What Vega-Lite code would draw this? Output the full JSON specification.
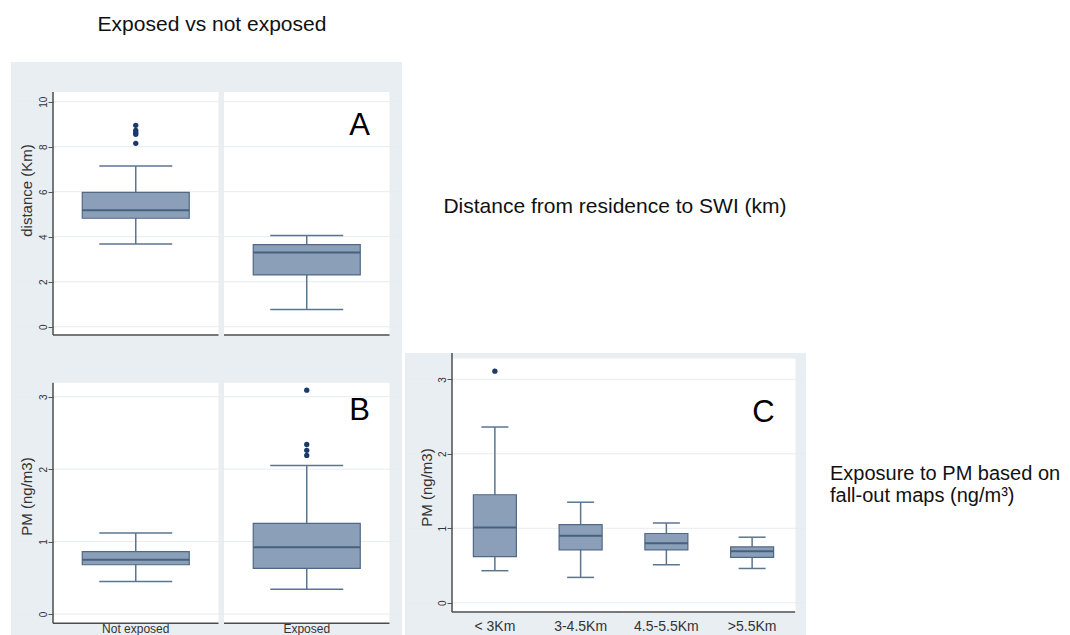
{
  "$schema": "https://vega.github.io/schema/vega-lite/v6.json",
  "padding": {"left": 10, "top": 0, "right": 0, "bottom": 0},
  "background": "white",
  "config": {"font": "Liberation Sans", "view": {"stroke": null}},
  "spacing": 12,
  "vconcat": [
    {
      "width": 402, "height": 50,
      "data": {"values": [{"t": "Exposed vs not exposed"}]},
      "mark": {"type": "text", "fontSize": 21, "align": "center", "baseline": "middle", "color": "#111"},
      "encoding": {"text": {"field": "t", "type": "nominal"}}
    },
    {
      "spacing": 1,
      "hconcat": [
        {
          "spacing": 0,
          "vconcat": [
            {
              "width": 391, "height": 283,
              "view": {"fill": "#e9eef2", "stroke": null},
              "data": {"values": [
                {"group": "Not exposed", "lower": 3.68, "q1": 4.82, "median": 5.18, "q3": 5.97, "upper": 7.14},
                {"group": "Exposed", "lower": 0.77, "q1": 2.3, "median": 3.3, "q3": 3.65, "upper": 4.05}
              ]},
              "layer": [
                {
                  "mark": {"type": "bar", "color": "white"},
                  "encoding": {
                    "x": {"field": "group", "type": "nominal", "sort": null, "axis": null, "scale": {"type": "band", "domain": ["Not exposed", "Exposed"], "paddingInner": 0.0322, "paddingOuter": 0.1594, "align": 0.7706}},
                    "y": {"datum": 10.43, "type": "quantitative", "scale": {"domain": [-0.813, 11.764], "nice": false, "zero": false},
                      "axis": {"orient": "left", "offset": -42, "values": [0, 2, 4, 6, 8, 10], "format": "d", "domain": false, "grid": false, "ticks": true, "tickSize": 5, "tickColor": "#555", "tickWidth": 1, "labelAngle": 270, "labelFontSize": 10, "labelColor": "#333", "labelPadding": 0, "labelFlush": false, "title": "distance (Km)", "titleFontSize": 15, "titleFontWeight": "normal", "titleColor": "#333", "titleAngle": 270, "titleX": -27, "titleY": 128, "titleAlign": "center", "titleBaseline": "middle", "zindex": 1}},
                    "y2": {"datum": -0.369}
                  }
                },
                {
                  "data": {"values": [{"g": 0}, {"g": 2}, {"g": 4}, {"g": 6}, {"g": 8}, {"g": 10}]},
                  "mark": {"type": "rule", "color": "#e7ecf0", "strokeWidth": 1},
                  "encoding": {"y": {"field": "g", "type": "quantitative", "scale": {"domain": [-0.813, 11.764], "nice": false, "zero": false}}}
                },
                {
                  "transform": [{"filter": "datum.group === 'Not exposed'"}],
                  "mark": {"type": "rule", "color": "#4d4d4d", "strokeWidth": 1.5},
                  "encoding": {
                    "x": {"field": "group", "type": "nominal", "sort": null, "axis": null, "bandPosition": 0, "scale": {"type": "band", "domain": ["Not exposed", "Exposed"], "paddingInner": 0.0322, "paddingOuter": 0.1594, "align": 0.7706}},
                    "y": {"datum": 10.43, "type": "quantitative", "scale": {"domain": [-0.813, 11.764], "nice": false, "zero": false}},
                    "y2": {"datum": -0.369}
                  }
                },
                {
                  "mark": {"type": "tick", "color": "#4d4d4d", "size": 165.5, "thickness": 1.5, "opacity": 1},
                  "encoding": {
                    "x": {"field": "group", "type": "nominal", "sort": null, "axis": null, "scale": {"type": "band", "domain": ["Not exposed", "Exposed"], "paddingInner": 0.0322, "paddingOuter": 0.1594, "align": 0.7706}},
                    "y": {"datum": -0.369, "type": "quantitative", "scale": {"domain": [-0.813, 11.764], "nice": false, "zero": false}}
                  }
                },
                {
                  "mark": {"type": "rule", "color": "#5b7591", "strokeWidth": 1.5},
                  "encoding": {
                    "x": {"field": "group", "type": "nominal", "sort": null, "axis": null, "scale": {"type": "band", "domain": ["Not exposed", "Exposed"], "paddingInner": 0.0322, "paddingOuter": 0.1594, "align": 0.7706}},
                    "y": {"field": "lower", "type": "quantitative", "scale": {"domain": [-0.813, 11.764], "nice": false, "zero": false}},
                    "y2": {"field": "upper"}
                  }
                },
                {
                  "mark": {"type": "bar", "size": 107, "fill": "#8ba0b8", "stroke": "#4f6886", "strokeWidth": 1.2},
                  "encoding": {
                    "x": {"field": "group", "type": "nominal", "sort": null, "axis": null, "scale": {"type": "band", "domain": ["Not exposed", "Exposed"], "paddingInner": 0.0322, "paddingOuter": 0.1594, "align": 0.7706}},
                    "y": {"field": "q1", "type": "quantitative", "scale": {"domain": [-0.813, 11.764], "nice": false, "zero": false}},
                    "y2": {"field": "q3"}
                  }
                },
                {
                  "mark": {"type": "tick", "size": 107, "thickness": 2, "color": "#46607e", "opacity": 1},
                  "encoding": {
                    "x": {"field": "group", "type": "nominal", "sort": null, "axis": null, "scale": {"type": "band", "domain": ["Not exposed", "Exposed"], "paddingInner": 0.0322, "paddingOuter": 0.1594, "align": 0.7706}},
                    "y": {"field": "median", "type": "quantitative", "scale": {"domain": [-0.813, 11.764], "nice": false, "zero": false}}
                  }
                },
                {
                  "mark": {"type": "tick", "size": 73, "thickness": 1.5, "color": "#5b7591", "opacity": 1},
                  "encoding": {
                    "x": {"field": "group", "type": "nominal", "sort": null, "axis": null, "scale": {"type": "band", "domain": ["Not exposed", "Exposed"], "paddingInner": 0.0322, "paddingOuter": 0.1594, "align": 0.7706}},
                    "y": {"field": "lower", "type": "quantitative", "scale": {"domain": [-0.813, 11.764], "nice": false, "zero": false}}
                  }
                },
                {
                  "mark": {"type": "tick", "size": 73, "thickness": 1.5, "color": "#5b7591", "opacity": 1},
                  "encoding": {
                    "x": {"field": "group", "type": "nominal", "sort": null, "axis": null, "scale": {"type": "band", "domain": ["Not exposed", "Exposed"], "paddingInner": 0.0322, "paddingOuter": 0.1594, "align": 0.7706}},
                    "y": {"field": "upper", "type": "quantitative", "scale": {"domain": [-0.813, 11.764], "nice": false, "zero": false}}
                  }
                },
                {
                  "data": {"values": [
                    {"group": "Not exposed", "value": 8.95},
                    {"group": "Not exposed", "value": 8.72},
                    {"group": "Not exposed", "value": 8.62},
                    {"group": "Not exposed", "value": 8.55},
                    {"group": "Not exposed", "value": 8.15}
                  ]},
                  "mark": {"type": "point", "filled": true, "size": 28, "color": "#1a3a68", "opacity": 1},
                  "encoding": {
                    "x": {"field": "group", "type": "nominal", "sort": null, "axis": null, "scale": {"type": "band", "domain": ["Not exposed", "Exposed"], "paddingInner": 0.0322, "paddingOuter": 0.1594, "align": 0.7706}},
                    "y": {"field": "value", "type": "quantitative", "scale": {"domain": [-0.813, 11.764], "nice": false, "zero": false}}
                  }
                },
                {
                  "data": {"values": [{"group": "Exposed", "letter": "A"}]},
                  "mark": {"type": "text", "fontSize": 31, "align": "center", "baseline": "alphabetic", "color": "black"},
                  "encoding": {
                    "x": {"field": "group", "type": "nominal", "sort": null, "axis": null, "bandPosition": 0.82, "scale": {"type": "band", "domain": ["Not exposed", "Exposed"], "paddingInner": 0.0322, "paddingOuter": 0.1594, "align": 0.7706}},
                    "y": {"datum": 8.52, "type": "quantitative", "scale": {"domain": [-0.813, 11.764], "nice": false, "zero": false}},
                    "text": {"field": "letter", "type": "nominal"}
                  }
                }
              ]
            },
            {
              "width": 391, "height": 290,
              "view": {"fill": "#e9eef2", "stroke": null},
              "data": {"values": [
                {"group": "Not exposed", "lower": 0.45, "q1": 0.68, "median": 0.75, "q3": 0.86, "upper": 1.12},
                {"group": "Exposed", "lower": 0.34, "q1": 0.63, "median": 0.92, "q3": 1.25, "upper": 2.05}
              ]},
              "layer": [
                {
                  "mark": {"type": "bar", "color": "white"},
                  "encoding": {
                    "x": {"field": "group", "type": "nominal", "sort": null, "scale": {"type": "band", "domain": ["Not exposed", "Exposed"], "paddingInner": 0.0322, "paddingOuter": 0.1594, "align": 0.7706},
                      "axis": {"orient": "bottom", "offset": -12, "domain": false, "ticks": false, "grid": false, "labelPadding": 0, "labelFontSize": 12, "labelColor": "#333", "labelAngle": 0, "title": null, "zindex": 1}},
                    "y": {"datum": 3.193, "type": "quantitative", "scale": {"domain": [-0.29, 3.714], "nice": false, "zero": false},
                      "axis": {"orient": "left", "offset": -42, "values": [0, 1, 2, 3], "format": "d", "domain": false, "grid": false, "ticks": true, "tickSize": 5, "tickColor": "#555", "tickWidth": 1, "labelAngle": 270, "labelFontSize": 10, "labelColor": "#333", "labelPadding": 0, "labelFlush": false, "title": "PM (ng/m3)", "titleFontSize": 15, "titleFontWeight": "normal", "titleColor": "#333", "titleAngle": 270, "titleX": -26.5, "titleY": 151, "titleAlign": "center", "titleBaseline": "middle", "zindex": 1}},
                    "y2": {"datum": -0.128}
                  }
                },
                {
                  "data": {"values": [{"g": 0}, {"g": 1}, {"g": 2}, {"g": 3}]},
                  "mark": {"type": "rule", "color": "#e7ecf0", "strokeWidth": 1},
                  "encoding": {"y": {"field": "g", "type": "quantitative", "scale": {"domain": [-0.29, 3.714], "nice": false, "zero": false}}}
                },
                {
                  "transform": [{"filter": "datum.group === 'Not exposed'"}],
                  "mark": {"type": "rule", "color": "#4d4d4d", "strokeWidth": 1.5},
                  "encoding": {
                    "x": {"field": "group", "type": "nominal", "sort": null, "bandPosition": 0, "scale": {"type": "band", "domain": ["Not exposed", "Exposed"], "paddingInner": 0.0322, "paddingOuter": 0.1594, "align": 0.7706}},
                    "y": {"datum": 3.193, "type": "quantitative", "scale": {"domain": [-0.29, 3.714], "nice": false, "zero": false}},
                    "y2": {"datum": -0.128}
                  }
                },
                {
                  "mark": {"type": "tick", "color": "#4d4d4d", "size": 165.5, "thickness": 1.5, "opacity": 1},
                  "encoding": {
                    "x": {"field": "group", "type": "nominal", "sort": null, "scale": {"type": "band", "domain": ["Not exposed", "Exposed"], "paddingInner": 0.0322, "paddingOuter": 0.1594, "align": 0.7706}},
                    "y": {"datum": -0.128, "type": "quantitative", "scale": {"domain": [-0.29, 3.714], "nice": false, "zero": false}}
                  }
                },
                {
                  "mark": {"type": "rule", "color": "#5b7591", "strokeWidth": 1.5},
                  "encoding": {
                    "x": {"field": "group", "type": "nominal", "sort": null, "scale": {"type": "band", "domain": ["Not exposed", "Exposed"], "paddingInner": 0.0322, "paddingOuter": 0.1594, "align": 0.7706}},
                    "y": {"field": "lower", "type": "quantitative", "scale": {"domain": [-0.29, 3.714], "nice": false, "zero": false}},
                    "y2": {"field": "upper"}
                  }
                },
                {
                  "mark": {"type": "bar", "size": 107, "fill": "#8ba0b8", "stroke": "#4f6886", "strokeWidth": 1.2},
                  "encoding": {
                    "x": {"field": "group", "type": "nominal", "sort": null, "scale": {"type": "band", "domain": ["Not exposed", "Exposed"], "paddingInner": 0.0322, "paddingOuter": 0.1594, "align": 0.7706}},
                    "y": {"field": "q1", "type": "quantitative", "scale": {"domain": [-0.29, 3.714], "nice": false, "zero": false}},
                    "y2": {"field": "q3"}
                  }
                },
                {
                  "mark": {"type": "tick", "size": 107, "thickness": 2, "color": "#46607e", "opacity": 1},
                  "encoding": {
                    "x": {"field": "group", "type": "nominal", "sort": null, "scale": {"type": "band", "domain": ["Not exposed", "Exposed"], "paddingInner": 0.0322, "paddingOuter": 0.1594, "align": 0.7706}},
                    "y": {"field": "median", "type": "quantitative", "scale": {"domain": [-0.29, 3.714], "nice": false, "zero": false}}
                  }
                },
                {
                  "mark": {"type": "tick", "size": 73, "thickness": 1.5, "color": "#5b7591", "opacity": 1},
                  "encoding": {
                    "x": {"field": "group", "type": "nominal", "sort": null, "scale": {"type": "band", "domain": ["Not exposed", "Exposed"], "paddingInner": 0.0322, "paddingOuter": 0.1594, "align": 0.7706}},
                    "y": {"field": "lower", "type": "quantitative", "scale": {"domain": [-0.29, 3.714], "nice": false, "zero": false}}
                  }
                },
                {
                  "mark": {"type": "tick", "size": 73, "thickness": 1.5, "color": "#5b7591", "opacity": 1},
                  "encoding": {
                    "x": {"field": "group", "type": "nominal", "sort": null, "scale": {"type": "band", "domain": ["Not exposed", "Exposed"], "paddingInner": 0.0322, "paddingOuter": 0.1594, "align": 0.7706}},
                    "y": {"field": "upper", "type": "quantitative", "scale": {"domain": [-0.29, 3.714], "nice": false, "zero": false}}
                  }
                },
                {
                  "data": {"values": [
                    {"group": "Exposed", "value": 3.09},
                    {"group": "Exposed", "value": 2.34},
                    {"group": "Exposed", "value": 2.26},
                    {"group": "Exposed", "value": 2.19}
                  ]},
                  "mark": {"type": "point", "filled": true, "size": 28, "color": "#1a3a68", "opacity": 1},
                  "encoding": {
                    "x": {"field": "group", "type": "nominal", "sort": null, "scale": {"type": "band", "domain": ["Not exposed", "Exposed"], "paddingInner": 0.0322, "paddingOuter": 0.1594, "align": 0.7706}},
                    "y": {"field": "value", "type": "quantitative", "scale": {"domain": [-0.29, 3.714], "nice": false, "zero": false}}
                  }
                },
                {
                  "data": {"values": [{"group": "Exposed", "letter": "B"}]},
                  "mark": {"type": "text", "fontSize": 31, "align": "center", "baseline": "alphabetic", "color": "black"},
                  "encoding": {
                    "x": {"field": "group", "type": "nominal", "sort": null, "bandPosition": 0.82, "scale": {"type": "band", "domain": ["Not exposed", "Exposed"], "paddingInner": 0.0322, "paddingOuter": 0.1594, "align": 0.7706}},
                    "y": {"datum": 2.68, "type": "quantitative", "scale": {"domain": [-0.29, 3.714], "nice": false, "zero": false}},
                    "text": {"field": "letter", "type": "nominal"}
                  }
                }
              ]
            }
          ]
        },
        {
          "spacing": 0,
          "vconcat": [
            {
              "width": 420, "height": 290,
              "data": {"values": [{"t": "Distance from residence to SWI (km)"}]},
              "mark": {"type": "text", "fontSize": 21, "align": "center", "baseline": "middle", "color": "#111"},
              "encoding": {"text": {"field": "t", "type": "nominal"}}
            },
            {
              "spacing": 0,
              "hconcat": [
                {
                  "width": 401, "height": 283,
                  "view": {"fill": "#e9eef2", "stroke": null},
                  "data": {"values": [
                    {"group": "< 3Km", "lower": 0.43, "q1": 0.62, "median": 1.01, "q3": 1.45, "upper": 2.36},
                    {"group": "3-4.5Km", "lower": 0.34, "q1": 0.71, "median": 0.9, "q3": 1.05, "upper": 1.35},
                    {"group": "4.5-5.5Km", "lower": 0.51, "q1": 0.71, "median": 0.8, "q3": 0.93, "upper": 1.07},
                    {"group": ">5.5Km", "lower": 0.46, "q1": 0.61, "median": 0.69, "q3": 0.75, "upper": 0.88}
                  ]},
                  "layer": [
                    {
                      "mark": {"type": "bar", "color": "white", "stroke": "white", "strokeWidth": 1},
                      "encoding": {
                        "x": {"field": "group", "type": "nominal", "sort": null, "scale": {"type": "band", "domain": ["< 3Km", "3-4.5Km", "4.5-5.5Km", ">5.5Km"], "paddingInner": 0, "paddingOuter": 0.3382, "align": 0.8103},
                          "axis": {"orient": "bottom", "offset": -18, "domain": false, "ticks": false, "grid": false, "labelPadding": 1, "labelFontSize": 14, "labelColor": "#333", "labelAngle": 0, "title": null, "zindex": 1}},
                        "y": {"datum": 3.273, "type": "quantitative", "scale": {"domain": [-0.447, 3.354], "nice": false, "zero": false},
                          "axis": {"orient": "left", "offset": -47, "values": [0, 1, 2, 3], "format": "d", "domain": false, "grid": false, "ticks": true, "tickSize": 5, "tickColor": "#555", "tickWidth": 1, "labelAngle": 270, "labelFontSize": 10, "labelColor": "#333", "labelPadding": 0, "labelFlush": false, "title": "PM (ng/m3)", "titleFontSize": 15, "titleFontWeight": "normal", "titleColor": "#333", "titleAngle": 270, "titleX": -26, "titleY": 134, "titleAlign": "center", "titleBaseline": "middle", "zindex": 1}},
                        "y2": {"datum": -0.125}
                      }
                    },
                    {
                      "data": {"values": [{"g": 0}, {"g": 1}, {"g": 2}, {"g": 3}]},
                      "mark": {"type": "rule", "color": "#e7ecf0", "strokeWidth": 1},
                      "encoding": {"y": {"field": "g", "type": "quantitative", "scale": {"domain": [-0.447, 3.354], "nice": false, "zero": false}}}
                    },
                    {
                      "transform": [{"filter": "datum.group === '< 3Km'"}],
                      "mark": {"type": "rule", "color": "#4d4d4d", "strokeWidth": 1.5},
                      "encoding": {
                        "x": {"field": "group", "type": "nominal", "sort": null, "bandPosition": 0, "scale": {"type": "band", "domain": ["< 3Km", "3-4.5Km", "4.5-5.5Km", ">5.5Km"], "paddingInner": 0, "paddingOuter": 0.3382, "align": 0.8103}},
                        "y": {"datum": 3.354, "type": "quantitative", "scale": {"domain": [-0.447, 3.354], "nice": false, "zero": false}},
                        "y2": {"datum": -0.125}
                      }
                    },
                    {
                      "mark": {"type": "tick", "color": "#4d4d4d", "size": 86, "thickness": 1.5, "opacity": 1},
                      "encoding": {
                        "x": {"field": "group", "type": "nominal", "sort": null, "scale": {"type": "band", "domain": ["< 3Km", "3-4.5Km", "4.5-5.5Km", ">5.5Km"], "paddingInner": 0, "paddingOuter": 0.3382, "align": 0.8103}},
                        "y": {"datum": -0.125, "type": "quantitative", "scale": {"domain": [-0.447, 3.354], "nice": false, "zero": false}}
                      }
                    },
                    {
                      "mark": {"type": "rule", "color": "#5b7591", "strokeWidth": 1.5},
                      "encoding": {
                        "x": {"field": "group", "type": "nominal", "sort": null, "scale": {"type": "band", "domain": ["< 3Km", "3-4.5Km", "4.5-5.5Km", ">5.5Km"], "paddingInner": 0, "paddingOuter": 0.3382, "align": 0.8103}},
                        "y": {"field": "lower", "type": "quantitative", "scale": {"domain": [-0.447, 3.354], "nice": false, "zero": false}},
                        "y2": {"field": "upper"}
                      }
                    },
                    {
                      "mark": {"type": "bar", "size": 43, "fill": "#8ba0b8", "stroke": "#4f6886", "strokeWidth": 1.2},
                      "encoding": {
                        "x": {"field": "group", "type": "nominal", "sort": null, "scale": {"type": "band", "domain": ["< 3Km", "3-4.5Km", "4.5-5.5Km", ">5.5Km"], "paddingInner": 0, "paddingOuter": 0.3382, "align": 0.8103}},
                        "y": {"field": "q1", "type": "quantitative", "scale": {"domain": [-0.447, 3.354], "nice": false, "zero": false}},
                        "y2": {"field": "q3"}
                      }
                    },
                    {
                      "mark": {"type": "tick", "size": 43, "thickness": 2, "color": "#46607e", "opacity": 1},
                      "encoding": {
                        "x": {"field": "group", "type": "nominal", "sort": null, "scale": {"type": "band", "domain": ["< 3Km", "3-4.5Km", "4.5-5.5Km", ">5.5Km"], "paddingInner": 0, "paddingOuter": 0.3382, "align": 0.8103}},
                        "y": {"field": "median", "type": "quantitative", "scale": {"domain": [-0.447, 3.354], "nice": false, "zero": false}}
                      }
                    },
                    {
                      "mark": {"type": "tick", "size": 27, "thickness": 1.5, "color": "#5b7591", "opacity": 1},
                      "encoding": {
                        "x": {"field": "group", "type": "nominal", "sort": null, "scale": {"type": "band", "domain": ["< 3Km", "3-4.5Km", "4.5-5.5Km", ">5.5Km"], "paddingInner": 0, "paddingOuter": 0.3382, "align": 0.8103}},
                        "y": {"field": "lower", "type": "quantitative", "scale": {"domain": [-0.447, 3.354], "nice": false, "zero": false}}
                      }
                    },
                    {
                      "mark": {"type": "tick", "size": 27, "thickness": 1.5, "color": "#5b7591", "opacity": 1},
                      "encoding": {
                        "x": {"field": "group", "type": "nominal", "sort": null, "scale": {"type": "band", "domain": ["< 3Km", "3-4.5Km", "4.5-5.5Km", ">5.5Km"], "paddingInner": 0, "paddingOuter": 0.3382, "align": 0.8103}},
                        "y": {"field": "upper", "type": "quantitative", "scale": {"domain": [-0.447, 3.354], "nice": false, "zero": false}}
                      }
                    },
                    {
                      "data": {"values": [{"group": "< 3Km", "value": 3.11}]},
                      "mark": {"type": "point", "filled": true, "size": 28, "color": "#1a3a68", "opacity": 1},
                      "encoding": {
                        "x": {"field": "group", "type": "nominal", "sort": null, "scale": {"type": "band", "domain": ["< 3Km", "3-4.5Km", "4.5-5.5Km", ">5.5Km"], "paddingInner": 0, "paddingOuter": 0.3382, "align": 0.8103}},
                        "y": {"field": "value", "type": "quantitative", "scale": {"domain": [-0.447, 3.354], "nice": false, "zero": false}}
                      }
                    },
                    {
                      "data": {"values": [{"group": ">5.5Km", "letter": "C"}]},
                      "mark": {"type": "text", "fontSize": 31, "align": "center", "baseline": "alphabetic", "color": "black"},
                      "encoding": {
                        "x": {"field": "group", "type": "nominal", "sort": null, "bandPosition": 0.633, "scale": {"type": "band", "domain": ["< 3Km", "3-4.5Km", "4.5-5.5Km", ">5.5Km"], "paddingInner": 0, "paddingOuter": 0.3382, "align": 0.8103}},
                        "y": {"datum": 2.427, "type": "quantitative", "scale": {"domain": [-0.447, 3.354], "nice": false, "zero": false}},
                        "text": {"field": "letter", "type": "nominal"}
                      }
                    }
                  ]
                },
                {
                  "width": 46, "height": 242,
                  "data": {"values": [{"t": "Exposure to PM based on|fall-out maps (ng/m³)"}]},
                  "mark": {"type": "text", "fontSize": 20, "align": "left", "baseline": "middle", "color": "#111", "lineBreak": "|", "lineHeight": 22},
                  "encoding": {"text": {"field": "t", "type": "nominal"}}
                }
              ]
            }
          ]
        }
      ]
    }
  ]
}
